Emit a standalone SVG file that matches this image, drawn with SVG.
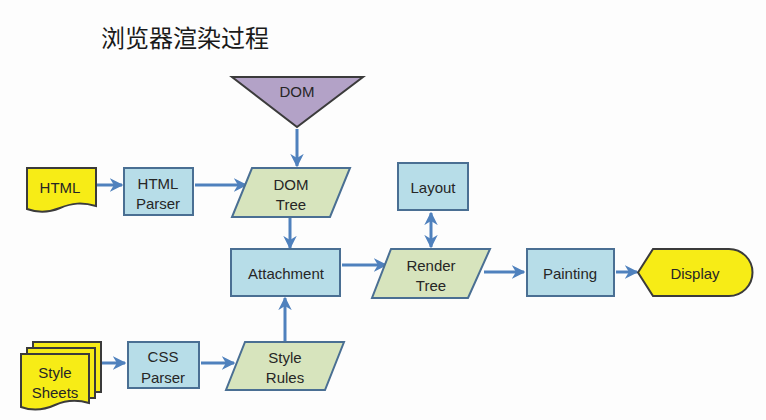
<svg xmlns="http://www.w3.org/2000/svg" width="766" height="420" viewBox="0 0 766 420">
<defs>
<marker id="ah" viewBox="0 0 10 10" refX="9" refY="5" markerWidth="4.5" markerHeight="4.5" orient="auto-start-reverse" markerUnits="strokeWidth">
<path d="M0,0 L10,5 L0,10 L3,5 z" fill="#4f81bd"/>
</marker>
<style>
.t{font-family:"Liberation Sans",Arial,sans-serif;font-size:15px;fill:#262626;text-anchor:middle;dominant-baseline:central}
.blue{fill:#b7dde8;stroke:#4a6f93;stroke-width:2}
.green{fill:#d7e4bd;stroke:#4a6f93;stroke-width:2}
.yel{fill:#f7ec16;stroke:#3b3b3b;stroke-width:2}
.c{stroke:#4f81bd;stroke-width:3;fill:none;marker-end:url(#ah)}
</style>
</defs>
<rect width="766" height="420" fill="#fdfdfd"/>
<text x="101" y="47" style="font-family:'Noto Sans CJK SC',sans-serif;font-size:24px;fill:#1a1a1a">浏览器渲染过程</text>

<g id="connectors">
<line class="c" x1="297" y1="129" x2="297" y2="166"/>
<line class="c" x1="97" y1="185" x2="122" y2="185"/>
<line class="c" x1="195" y1="185" x2="246" y2="185"/>
<line class="c" x1="290" y1="218" x2="290" y2="248"/>
<line class="c" x1="101" y1="363" x2="125" y2="363"/>
<line class="c" x1="201" y1="363" x2="234" y2="363"/>
<line class="c" x1="285" y1="341" x2="285" y2="298"/>
<line class="c" x1="342" y1="265" x2="386" y2="265"/>
<line class="c" x1="431" y1="213" x2="431" y2="247" style="marker-start:url(#ah)"/>
<line class="c" x1="484" y1="272" x2="524" y2="272"/>
<line class="c" x1="616" y1="272" x2="637" y2="272"/>
</g>

<g id="dom">
<polygon points="232,77 363,77 297,127" fill="#b3a2c7" stroke="#3b3b3b" stroke-width="2"/>
<text class="t" x="297" y="91">DOM</text>
</g>

<g id="html">
<path class="yel" d="M27,168 H96 V206 C82,202 72,203 60,208 C48,213 38,213 27,209 Z"/>
<text class="t" x="60" y="187">HTML</text>
</g>

<g id="html-parser">
<rect class="blue" x="124" y="168" width="69" height="47"/>
<text class="t" x="158" y="183">HTML</text>
<text class="t" x="158" y="203">Parser</text>
</g>

<g id="dom-tree">
<polygon class="green" points="252,168 350,168 330,217 232,217"/>
<text class="t" x="291" y="184">DOM</text>
<text class="t" x="291" y="204">Tree</text>
</g>

<g id="attachment">
<rect class="blue" x="231" y="249" width="109" height="47"/>
<text class="t" x="286" y="273">Attachment</text>
</g>

<g id="style-sheets">
<path class="yel" d="M33,342 H101 V392 H33 Z"/>
<path class="yel" d="M27,348 H95 V398 H27 Z"/>
<path class="yel" d="M21,354 H89 V403 C76,399 66,400 55,405 C44,410 32,411 21,407 Z"/>
<text class="t" x="55" y="372">Style</text>
<text class="t" x="55" y="392">Sheets</text>
</g>

<g id="css-parser">
<rect class="blue" x="128" y="342" width="71" height="46"/>
<text class="t" x="163" y="356">CSS</text>
<text class="t" x="163" y="377">Parser</text>
</g>

<g id="style-rules">
<polygon class="green" points="245,342 344,342 325,390 226,390"/>
<text class="t" x="285" y="357">Style</text>
<text class="t" x="285" y="377">Rules</text>
</g>

<g id="layout">
<rect class="blue" x="398" y="163" width="70" height="47"/>
<text class="t" x="433" y="187">Layout</text>
</g>

<g id="render-tree">
<polygon class="green" points="391,249 490,249 468,298 372,298"/>
<text class="t" x="431" y="265">Render</text>
<text class="t" x="431" y="285">Tree</text>
</g>

<g id="painting">
<rect class="blue" x="527" y="249" width="87" height="47"/>
<text class="t" x="570" y="273">Painting</text>
</g>

<g id="display">
<path class="yel" d="M638,272.5 L653,249 H729 A23.5,23.5 0 0 1 729,296 H653 Z"/>
<text class="t" x="695" y="273">Display</text>
</g>
</svg>
